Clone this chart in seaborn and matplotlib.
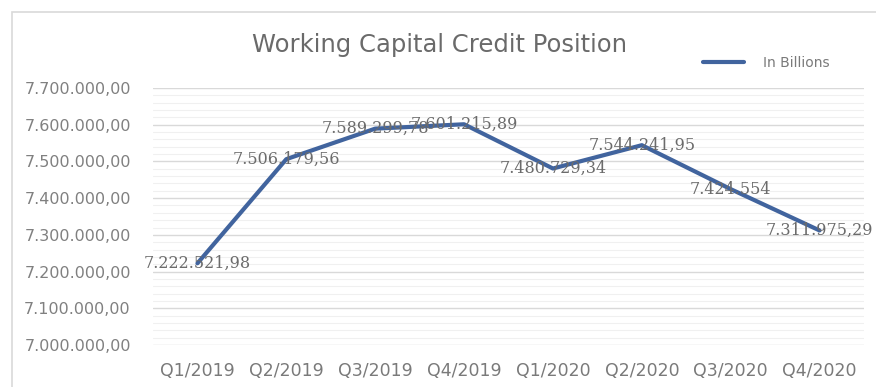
import matplotlib
matplotlib.use("Agg")
import matplotlib.pyplot as plt
import matplotlib.ticker as mticker
from matplotlib.patches import Rectangle
import seaborn as sns
import pandas as pd

quarters = ["Q1/2019", "Q2/2019", "Q3/2019", "Q4/2019",
            "Q1/2020", "Q2/2020", "Q3/2020", "Q4/2020"]
values = [7222521.98, 7506179.56, 7589299.78, 7601215.89,
          7480729.34, 7544241.95, 7424554.00, 7311975.29]
value_labels = ["7.222.521,98", "7.506.179,56", "7.589.299,78", "7.601.215,89",
                "7.480.729,34", "7.544.241,95", "7.424.554", "7.311.975,29"]
series_name = "In Billions"
title = "Working Capital Credit Position"

df = pd.DataFrame({"quarter": quarters, "value": values})

sns.set_style("white")
plt.rcParams["font.family"] = ["DejaVu Sans"]

W, H = 876, 387
fig = plt.figure(figsize=(W / 100, H / 100), dpi=100)
fig.patch.set_facecolor("white")

# outer chart frame
fig.add_artist(Rectangle((12 / W, -0.02), 1.0, 1 - 12 / H + 0.02,
                         transform=fig.transFigure, fill=False,
                         edgecolor="#d9d9d9", linewidth=1.2))

ax = fig.add_axes([153 / W, 1 - 345 / H, (864 - 153) / W, (345 - 88) / H])

line_color = "#41649e"
sns.lineplot(data=df, x="quarter", y="value", ax=ax, sort=False,
             color=line_color, linewidth=3.0, label=series_name)

ax.set_xlim(-0.5, len(quarters) - 0.5)
ax.set_ylim(7000000, 7700000)
ax.yaxis.set_major_locator(mticker.MultipleLocator(100000))
ax.yaxis.set_minor_locator(mticker.MultipleLocator(20000))


def fmt(v, pos):
    s = f"{v:,.2f}"
    return s.replace(",", "X").replace(".", ",").replace("X", ".")


ax.yaxis.set_major_formatter(mticker.FuncFormatter(fmt))
ax.grid(True, which="major", axis="y", color="#d9d9d9", linewidth=1.0)
ax.grid(True, which="minor", axis="y", color="#f0f0f0", linewidth=0.8)
ax.grid(False, axis="x")
ax.set_axisbelow(True)
for s in ax.spines.values():
    s.set_visible(False)
ax.tick_params(axis="both", which="both", length=0)
ax.tick_params(axis="y", labelsize=11.5, labelcolor="#808080", pad=16)
ax.tick_params(axis="x", labelsize=12.5, labelcolor="#7a7a7a", pad=12)
for t in ax.get_xticklabels():
    t.set_x(t.get_position()[0])
ax.set_xlabel("")
ax.set_ylabel("")

for i, (v, lab) in enumerate(zip(values, value_labels)):
    ax.text(i, v, lab, ha="center", va="center", fontsize=11.5,
            family="DejaVu Serif", color="#6b6b6b")

fig.text(440 / W, 1 - 45 / H, title, ha="center", va="center",
         fontsize=17.5, color="#6a6a6a")

leg = ax.legend(loc="center", bbox_to_anchor=(766 / W, 1 - 63 / H),
                bbox_transform=fig.transFigure, frameon=False,
                fontsize=10, handlelength=3.0, handletextpad=1.3)
for t in leg.get_texts():
    t.set_color("#7a7a7a")

fig.savefig("out.png", dpi=100, facecolor="white")
